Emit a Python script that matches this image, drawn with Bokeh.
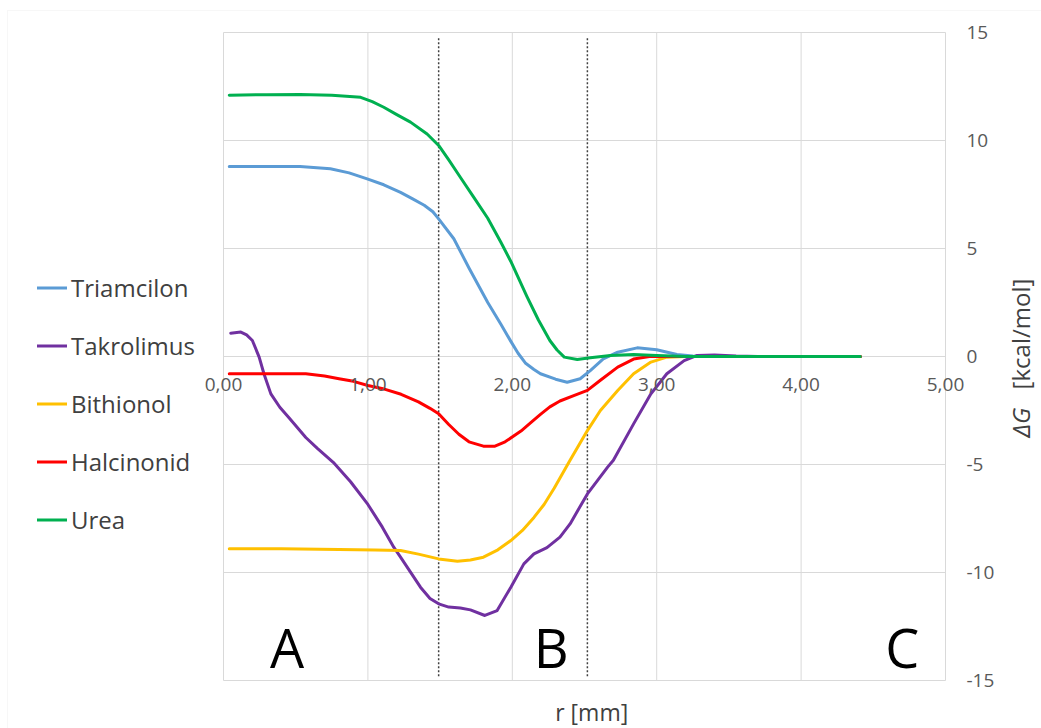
import math
from bokeh.plotting import figure
from bokeh.models import (Range1d, LinearAxis, FixedTicker, Label, Legend, LegendItem, BoxAnnotation)
from bokeh.embed import file_html
from bokeh.resources import INLINE

# ---------------- data ----------------
series_names = ["Triamcilon", "Takrolimus", "Bithionol", "Halcinonid", "Urea"]
series_colors = ["#5B9BD5", "#7030A0", "#FFC000", "#FF0000", "#00B050"]

triamcilon_r = [0.04, 0.3, 0.53, 0.74, 0.87, 0.995, 1.11, 1.226, 1.31, 1.39, 1.45, 1.49, 1.595, 1.7,
                1.83, 1.92, 1.99, 2.04, 2.09, 2.15, 2.195, 2.3, 2.38, 2.47, 2.54, 2.63, 2.73, 2.865, 3.0,
                3.14, 3.25, 3.5, 4.0, 4.41]
triamcilon_dg = [8.8, 8.8, 8.8, 8.69, 8.5, 8.22, 7.95, 7.6, 7.3, 7.0, 6.7, 6.37, 5.45, 4.1,
                 2.5, 1.5, 0.7, 0.15, -0.3, -0.6, -0.8, -1.05, -1.19, -1.03, -0.65, -0.11, 0.2, 0.4, 0.31,
                 0.09, 0.02, 0.0, 0.0, 0.0]

takrolimus_r = [0.05, 0.12, 0.16, 0.2, 0.247, 0.28, 0.328, 0.39, 0.455, 0.57, 0.65, 0.76, 0.88, 1.0,
                1.1, 1.18, 1.226, 1.364, 1.43, 1.49, 1.56, 1.64, 1.71, 1.81, 1.895, 1.99, 2.08, 2.15,
                2.24, 2.33, 2.4, 2.52, 2.66, 2.7, 2.84, 2.96, 3.07, 3.19, 3.28, 3.4, 3.55, 3.7,
                4.0, 4.41]
takrolimus_dg = [1.08, 1.13, 1.0, 0.74, -0.03, -0.8, -1.73, -2.35, -2.85, -3.75, -4.25, -4.9, -5.8, -6.85,
                 -7.9, -8.84, -9.29, -10.68, -11.2, -11.45, -11.6, -11.64, -11.73, -11.99, -11.76, -10.68, -9.6, -9.14,
                 -8.85, -8.36, -7.75, -6.36, -5.12, -4.8, -3.12, -1.73, -0.8, -0.19, 0.05, 0.07, 0.02, 0.0,
                 0.0, 0.0]

bithionol_r = [0.04, 0.4, 0.8, 1.05, 1.226, 1.35, 1.49, 1.62, 1.71, 1.8, 1.9, 1.99, 2.07, 2.15, 2.22, 2.29,
               2.4, 2.52, 2.61, 2.73, 2.84, 2.96, 3.07, 3.2, 3.5, 4.0, 4.41]
bithionol_dg = [-8.9, -8.9, -8.93, -8.96, -8.98, -9.15, -9.37, -9.48, -9.42, -9.29, -8.95, -8.52, -8.05, -7.45,
                -6.85, -6.1, -4.8, -3.43, -2.5, -1.57, -0.8, -0.26, -0.03, 0.0, 0.0, 0.0, 0.0]

halcinonid_r = [0.04, 0.3, 0.57, 0.7, 0.8, 0.9, 1.0, 1.12, 1.23, 1.35, 1.43, 1.49, 1.56, 1.63, 1.7,
                1.8, 1.88, 1.95, 2.06, 2.13, 2.195, 2.26, 2.33, 2.43, 2.52, 2.61, 2.73, 2.84, 2.95, 3.2, 3.5,
                4.0, 4.41]
halcinonid_dg = [-0.8, -0.8, -0.8, -0.9, -1.03, -1.15, -1.34, -1.52, -1.75, -2.1, -2.4, -2.65, -3.15, -3.6, -3.95,
                 -4.15, -4.15, -3.95, -3.45, -3.05, -2.68, -2.33, -2.06, -1.8, -1.57, -1.1, -0.49, -0.12, 0.0, 0.0, 0.0,
                 0.0, 0.0]

urea_r = [0.04, 0.3, 0.53, 0.75, 0.95, 1.03, 1.11, 1.2, 1.295, 1.41, 1.49, 1.56, 1.64, 1.73, 1.83,
          1.92, 1.99, 2.1, 2.18, 2.26, 2.31, 2.36, 2.45, 2.54, 2.68, 2.84, 3.0, 3.2, 3.6, 4.0, 4.41]
urea_dg = [12.1, 12.12, 12.13, 12.1, 12.0, 11.8, 11.54, 11.2, 10.85, 10.3, 9.77, 9.1, 8.3, 7.4, 6.4,
           5.3, 4.4, 2.8, 1.7, 0.74, 0.3, -0.03, -0.14, -0.06, 0.05, 0.09, 0.05, 0.0, 0.0, 0.0, 0.0]

region_bounds = [1.49, 2.52]
region_names = ["A", "B", "C"]
region_label_r = [0.44, 2.27, 4.70]

x_ticks = [0, 1, 2, 3, 4, 5]
x_tick_labels = ["0,00", "1,00", "2,00", "3,00", "4,00", "5,00"]
y_ticks = [-15, -10, -5, 0, 5, 10, 15]
y_tick_labels = ["-15", "-10", "-5", "0", "5", "10", "15"]

FONT = "Open Sans"
GRID = "#D9D9D9"

# ---------------- geometry of the page ----------------
W, H = 1041, 728
PX_X = 144.4      # pixels per mm
PX_Y = 21.6       # pixels per kcal/mol
X0_PX, Y0_PX = 223, 356   # page position of the origin

x_lo, x_hi = -X0_PX / PX_X, (W - X0_PX) / PX_X
y_lo, y_hi = -(H - Y0_PX) / PX_Y, Y0_PX / PX_Y

p = figure(width=W, height=H,
           x_range=Range1d(x_lo, x_hi), y_range=Range1d(y_lo, y_hi),
           x_axis_location=None, y_axis_location=None,
           output_backend="svg", toolbar_location=None,
           min_border=0)
p.background_fill_color = "white"
p.border_fill_color = "white"
p.outline_line_color = None
p.xgrid.visible = False
p.ygrid.visible = False

# faint chart-area border
p.add_layout(BoxAnnotation(left=(7 - X0_PX) / PX_X, top=(Y0_PX - 10) / PX_Y,
                           fill_alpha=0, line_color="#E4E4E4", line_width=1))

# grid lines (limited to the plot area)
xmin, xmax = x_ticks[0], x_ticks[-1]
ymin, ymax = y_ticks[0], y_ticks[-1]
p.segment(x0=x_ticks, y0=[ymin] * len(x_ticks), x1=x_ticks, y1=[ymax] * len(x_ticks),
          line_color=GRID, line_width=1)
p.segment(x0=[xmin] * len(y_ticks), y0=y_ticks, x1=[xmax] * len(y_ticks), y1=y_ticks,
          line_color=GRID, line_width=1)

# y axis at the right edge of the plot area
ya = LinearAxis(fixed_location=xmax, ticker=FixedTicker(ticks=y_ticks),
                major_label_overrides={t: l for t, l in zip(y_ticks, y_tick_labels)},
                axis_line_color=None, major_tick_line_color=None, minor_tick_line_color=None,
                major_tick_out=0, major_label_standoff=21, major_label_text_font=FONT,
                major_label_text_font_size="19px", major_label_text_color="#595959")
p.add_layout(ya, "right")

# x axis crossing at zero
xa = LinearAxis(fixed_location=0, ticker=FixedTicker(ticks=x_ticks),
                major_label_overrides={t: l for t, l in zip(x_ticks, x_tick_labels)},
                axis_line_color=None, major_tick_line_color=None, minor_tick_line_color=None,
                major_tick_out=0, major_label_standoff=21, major_label_text_font=FONT,
                major_label_text_font_size="19px", major_label_text_color="#595959")
p.add_layout(xa, "below")

# region boundaries (dotted)
p.segment(x0=region_bounds, y0=[-14.8] * len(region_bounds), x1=region_bounds, y1=[14.8] * len(region_bounds),
          line_color="#404040", line_width=1.5, line_dash="2 2")

# series
data = [(triamcilon_r, triamcilon_dg), (takrolimus_r, takrolimus_dg),
        (bithionol_r, bithionol_dg), (halcinonid_r, halcinonid_dg), (urea_r, urea_dg)]
items = []
for name, color, (xs, ys) in zip(series_names, series_colors, data):
    r = p.line(xs, ys, line_color=color, line_width=3, line_join="round", line_cap="round")
    items.append(LegendItem(label=name, renderers=[r]))

legend = Legend(items=items, location=(37, 192), orientation="vertical",
                label_text_font=FONT, label_text_font_size="24px", label_text_color="#404040",
                glyph_width=30, glyph_height=33, label_height=33, label_standoff=4,
                spacing=25, padding=0, margin=0,
                border_line_color=None, background_fill_alpha=0)
p.add_layout(legend, "center")

# region letters
for name, rx in zip(region_names, region_label_r):
    p.add_layout(Label(x=rx, y=-13.45, text=name, text_align="center",
                       text_baseline="middle", text_font=FONT,
                       text_font_size="54px", text_color="black"))

# axis titles
p.add_layout(Label(x=2.55, y=-16.44, text="r [mm]", text_align="center", text_baseline="middle",
                   text_font=FONT, text_font_size="23px", text_color="#404040"))
p.add_layout(Label(x=5.52, y=1.04, text="[kcal/mol]", angle=math.pi / 2, text_align="center",
                   text_baseline="middle", text_font=FONT, text_font_size="24px", text_color="#404040"))
p.add_layout(Label(x=5.52, y=-3.06, text="ΔG", angle=math.pi / 2, text_align="center",
                   text_baseline="middle", text_font=FONT, text_font_style="italic",
                   text_font_size="24px", text_color="#404040"))

open("out.html", "w").write(file_html(p, INLINE))
